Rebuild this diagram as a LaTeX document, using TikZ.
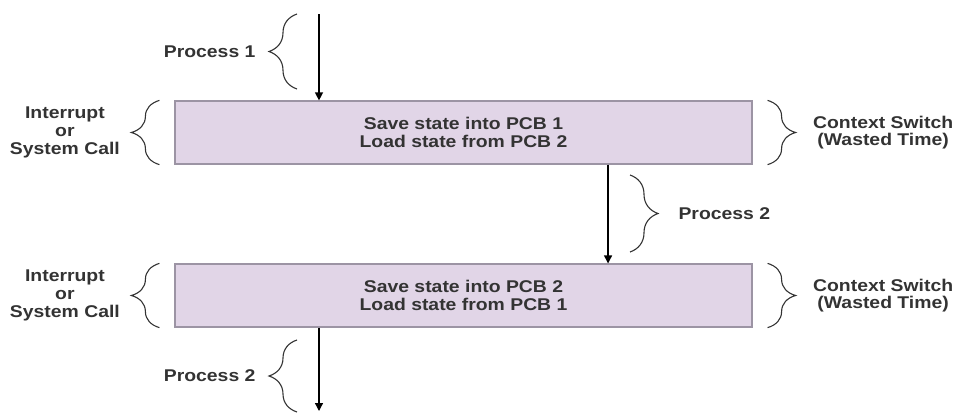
\documentclass[tikz,border=0pt]{standalone}
\usepackage{fontspec}
\setmainfont[FakeStretch=1.14]{Liberation Sans}
\usetikzlibrary{arrows.meta, positioning, decorations.pathreplacing, calc}
\definecolor{boxfill}{HTML}{E1D5E7}
\definecolor{boxline}{HTML}{9C94A4}
\definecolor{txt}{HTML}{333333}

\begin{document}
\begin{tikzpicture}[
    x=1pt, y=-1pt,
    font=\fontsize{17}{17.5}\selectfont\bfseries,
    >={Triangle[length=8pt, width=8pt]},
    pcb/.style={rectangle, draw=boxline, line width=1.2pt, fill=boxfill, minimum width=577pt, minimum height=63pt, inner sep=0pt, align=center, text=txt},
    brc/.style={draw=black!80, line width=1.1pt, decorate, decoration={brace, amplitude=28pt}},
    lbl/.style={inner sep=0pt, align=center, text=txt},
    flow/.style={->, line width=1.3pt}
]
\useasboundingbox (0,0) rectangle (956,413);

% Nodes
\node[pcb] (save1) at (463.5,132.5) {Save state into PCB 1\\Load state from PCB 2};
\node[pcb] (save2) at (463.5,295.5) {Save state into PCB 2\\Load state from PCB 1};

% Free ends of the flow
\coordinate (start) at (319,14);
\coordinate (finish) at (319,411);

% Flow Arrows
\draw[flow] (start) -- (start |- save1.north);
\draw[flow] ($(save1.south west)!0.75!(save1.south east)$) -- ($(save2.north west)!0.75!(save2.north east)$);
\draw[flow] (finish |- save2.south) -- (finish);

% Process Braces
\draw[brc] (297,89) -- (297,14) node[lbl, midway, left=41pt] (proc1) {Process 1};
\draw[brc] (630,175) -- (630,252) node[lbl, midway, right=48pt] (proc2) {Process 2};
\draw[brc] (297,412) -- (297,340) node[lbl, midway, left=41pt] (proc3) {Process 2};

% Interrupt & Context Switch Braces
\draw[brc] ([xshift=-15pt]save1.south west) -- ([xshift=-15pt]save1.north west) node[lbl, midway, left=39pt, font=\fontsize{17}{18}\selectfont\bfseries] (irq1) {Interrupt\\or\\System Call};
\draw[brc] ([xshift=15pt]save1.north east) -- ([xshift=15pt]save1.south east) node[lbl, midway, right=45pt] (ctx1) {Context Switch\\(Wasted Time)};
\draw[brc] ([xshift=-15pt]save2.south west) -- ([xshift=-15pt]save2.north west) node[lbl, midway, left=39pt, font=\fontsize{17}{18}\selectfont\bfseries] (irq2) {Interrupt\\or\\System Call};
\draw[brc] ([xshift=15pt]save2.north east) -- ([xshift=15pt]save2.south east) node[lbl, midway, right=45pt] (ctx2) {Context Switch\\(Wasted Time)};

\end{tikzpicture}
\end{document}
